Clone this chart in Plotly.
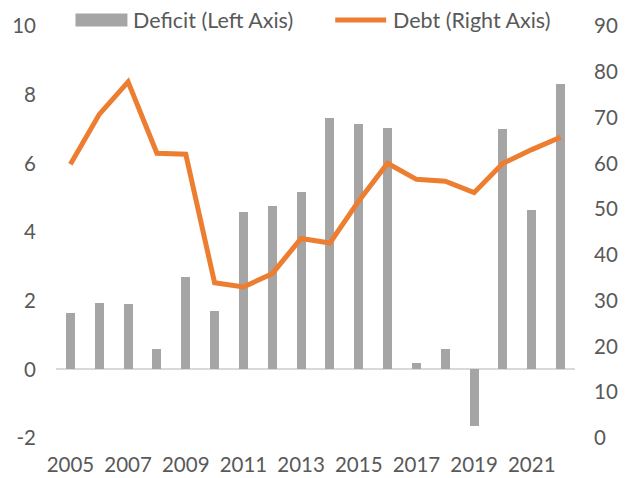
import plotly.graph_objects as go

years = list(range(2005, 2023))
deficit = [1.64, 1.92, 1.89, 0.60, 2.69, 1.69, 4.59, 4.75, 5.17, 7.31, 7.14, 7.03,
           0.19, 0.59, -1.66, 7.01, 4.63, 8.31]
debt = [59.8, 70.7, 77.8, 62.2, 62.0, 33.9, 33.0, 35.9, 43.6, 42.6, 51.8, 60.0,
        56.5, 56.1, 53.6, 60.0, 63.0, 65.7]
x_ticks = list(range(2005, 2022, 2))
left_ticks = [-2, 0, 2, 4, 6, 8, 10]
right_ticks = list(range(0, 91, 10))

FONT = "Lato"
TXT = "#595959"
BAR_C = "#A5A5A5"
LINE_C = "#ED7D31"

# page has an 8px body margin; target plot area in page pixels
OFF = 8
PAGE_W, PAGE_H = 626, 478
X0, X1, Y0, Y1 = 55.5, 575, 26, 437.7  # plot area in page px
W, H = PAGE_W - OFF, PAGE_H - OFF
L, T = X0 - OFF, Y0 - OFF
R, B = PAGE_W - X1, PAGE_H - Y1
PW, PH = X1 - X0, Y1 - Y0


def px(xp):
    return (xp - X0) / PW


def py(yp):
    return (Y1 - yp) / PH


fig = go.Figure()
fig.add_trace(go.Bar(x=years, y=deficit, name="Deficit (Left Axis)",
                     marker=dict(color=BAR_C, line=dict(width=0)), width=0.31,
                     yaxis="y", showlegend=False))
fig.add_trace(go.Scatter(x=years, y=debt, name="Debt (Right Axis)", mode="lines",
                         line=dict(color=LINE_C, width=5), yaxis="y2", showlegend=False))

# legend drawn manually to mimic wide swatches
shapes = [
    dict(type="rect", xref="paper", yref="paper", x0=px(75), x1=px(127),
         y0=py(26.5), y1=py(13.5), fillcolor=BAR_C, line=dict(width=0)),
    dict(type="line", xref="paper", yref="paper", x0=px(335), x1=px(386),
         y0=py(20), y1=py(20), line=dict(color=LINE_C, width=5)),
]
annotations = [
    dict(text="Deficit (Left Axis)", xref="paper", yref="paper", x=px(131), y=py(20),
         xanchor="left", yanchor="middle", showarrow=False,
         font=dict(family=FONT, size=21.5, color=TXT)),
    dict(text="Debt (Right Axis)", xref="paper", yref="paper", x=px(391), y=py(20),
         xanchor="left", yanchor="middle", showarrow=False,
         font=dict(family=FONT, size=21.5, color=TXT)),
]

fig.update_layout(
    width=W, height=H,
    margin=dict(l=L, r=R, t=T, b=B, autoexpand=False),
    plot_bgcolor="white", paper_bgcolor="white",
    font=dict(family=FONT, size=20.5, color=TXT),
    showlegend=False,
    shapes=shapes, annotations=annotations,
    xaxis=dict(range=[2004.5, 2022.5], tickmode="array", tickvals=x_ticks,
               ticktext=[str(v) for v in x_ticks], showgrid=False, zeroline=False,
               showline=False, ticks="", ticklabelstandoff=12),
    yaxis=dict(range=[-2, 10], tickmode="array", tickvals=left_ticks,
               ticktext=[str(v) for v in left_ticks],
               showgrid=False, zeroline=True, zerolinecolor="#D9D9D9", zerolinewidth=1.5,
               showline=False, ticks="", ticklabelstandoff=19),
    yaxis2=dict(range=[0, 90], tickmode="array", tickvals=right_ticks,
                ticktext=[str(v) for v in right_ticks],
                overlaying="y", side="right", showgrid=False, zeroline=False,
                showline=False, ticks="", ticklabelstandoff=18),
    bargap=0,
)

fig.write_html("out.html")
